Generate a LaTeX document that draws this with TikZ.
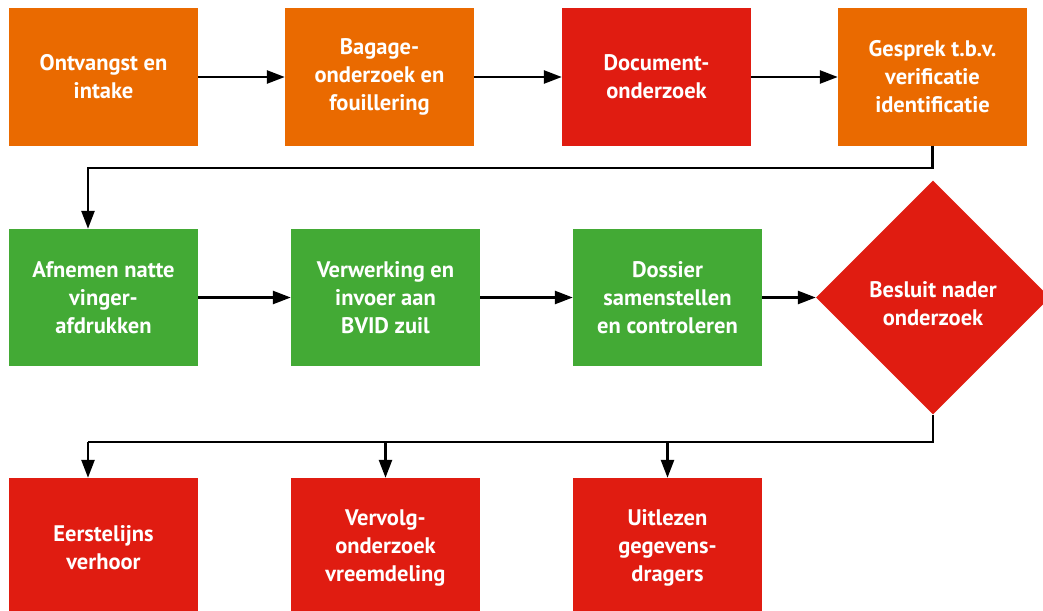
\documentclass[tikz,border=0pt]{standalone}
\usepackage{fontspec}
\setmainfont{PT Sans}
\usetikzlibrary{arrows.meta,shapes.geometric}
\definecolor{cOrange}{HTML}{EA6A00}
\definecolor{cRed}{HTML}{E01C11}
\definecolor{cGreen}{HTML}{43AA35}
\begin{document}
\begin{tikzpicture}[x=1pt,y=-1pt,
  lbl/.style={text=white,font=\fontsize{22.5}{28}\selectfont\bfseries,align=center},
  box/.style={lbl,minimum width=189pt,minimum height=137pt,inner sep=0pt,draw=none},
  org/.style={box,fill=cOrange},
  grn/.style={box,fill=cGreen},
  rd/.style={box,fill=cRed},
  conn/.style={line width=2.6pt,-{Triangle[length=18pt,width=13pt]}},
  plain/.style={line width=2.6pt}]
\useasboundingbox (0,0) rectangle (1043,610);
\node[org] (a1) at (103.5,77) {Ontvangst en\\intake};
\node[org] (a2) at (379.5,77) {Bagage-\\onderzoek en\\fouillering};
\node[rd]  (a3) at (656.5,77) {Document-\\onderzoek};
\node[org] (a4) at (932.5,77) {Gesprek t.b.v.\\verificatie\\identificatie};
\node[grn] (b1) at (103.5,297.5) {Afnemen natte\\vinger-\\afdrukken};
\node[grn] (b2) at (385.5,297.5) {Verwerking en\\invoer aan\\BVID zuil};
\node[grn] (b3) at (667.5,297.5) {Dossier\\samenstellen\\en controleren};
\node[diamond,fill=cRed,minimum width=234pt,minimum height=234pt,inner sep=0pt,
  label={[lbl,yshift=-6pt]center:{Besluit nader\\onderzoek}}] (d) at (933,297.5) {};
\node[rd,minimum height=140pt] (c1) at (103.5,548) {Eerstelijns\\verhoor};
\node[rd,minimum height=140pt] (c2) at (385.5,548) {Vervolg-\\onderzoek\\vreemdeling};
\node[rd,minimum height=140pt] (c3) at (667.5,548) {Uitlezen\\gegevens-\\dragers};
\coordinate (k2) at (88,168);
\coordinate (m1) at (933,442);
\coordinate (m2) at (88,442);
\draw[conn] (a1.east) -- (a2.west);
\draw[conn] (a2.east) -- (a3.west);
\draw[conn] (a3.east) -- (a4.west);
\draw[conn] (a4.south) |- (k2) -- (k2 |- b1.north);
\draw[conn] (b1.east) -- (b2.west);
\draw[conn] (b2.east) -- (b3.west);
\draw[conn] (b3.east) -- (d.west);
\draw[plain] (d.south) |- (m2);
\draw[conn] (m2) -- (m2 |- c1.north);
\draw[conn] (c2.north |- m1) -- (c2.north);
\draw[conn] (c3.north |- m1) -- (c3.north);
\end{tikzpicture}
\end{document}
